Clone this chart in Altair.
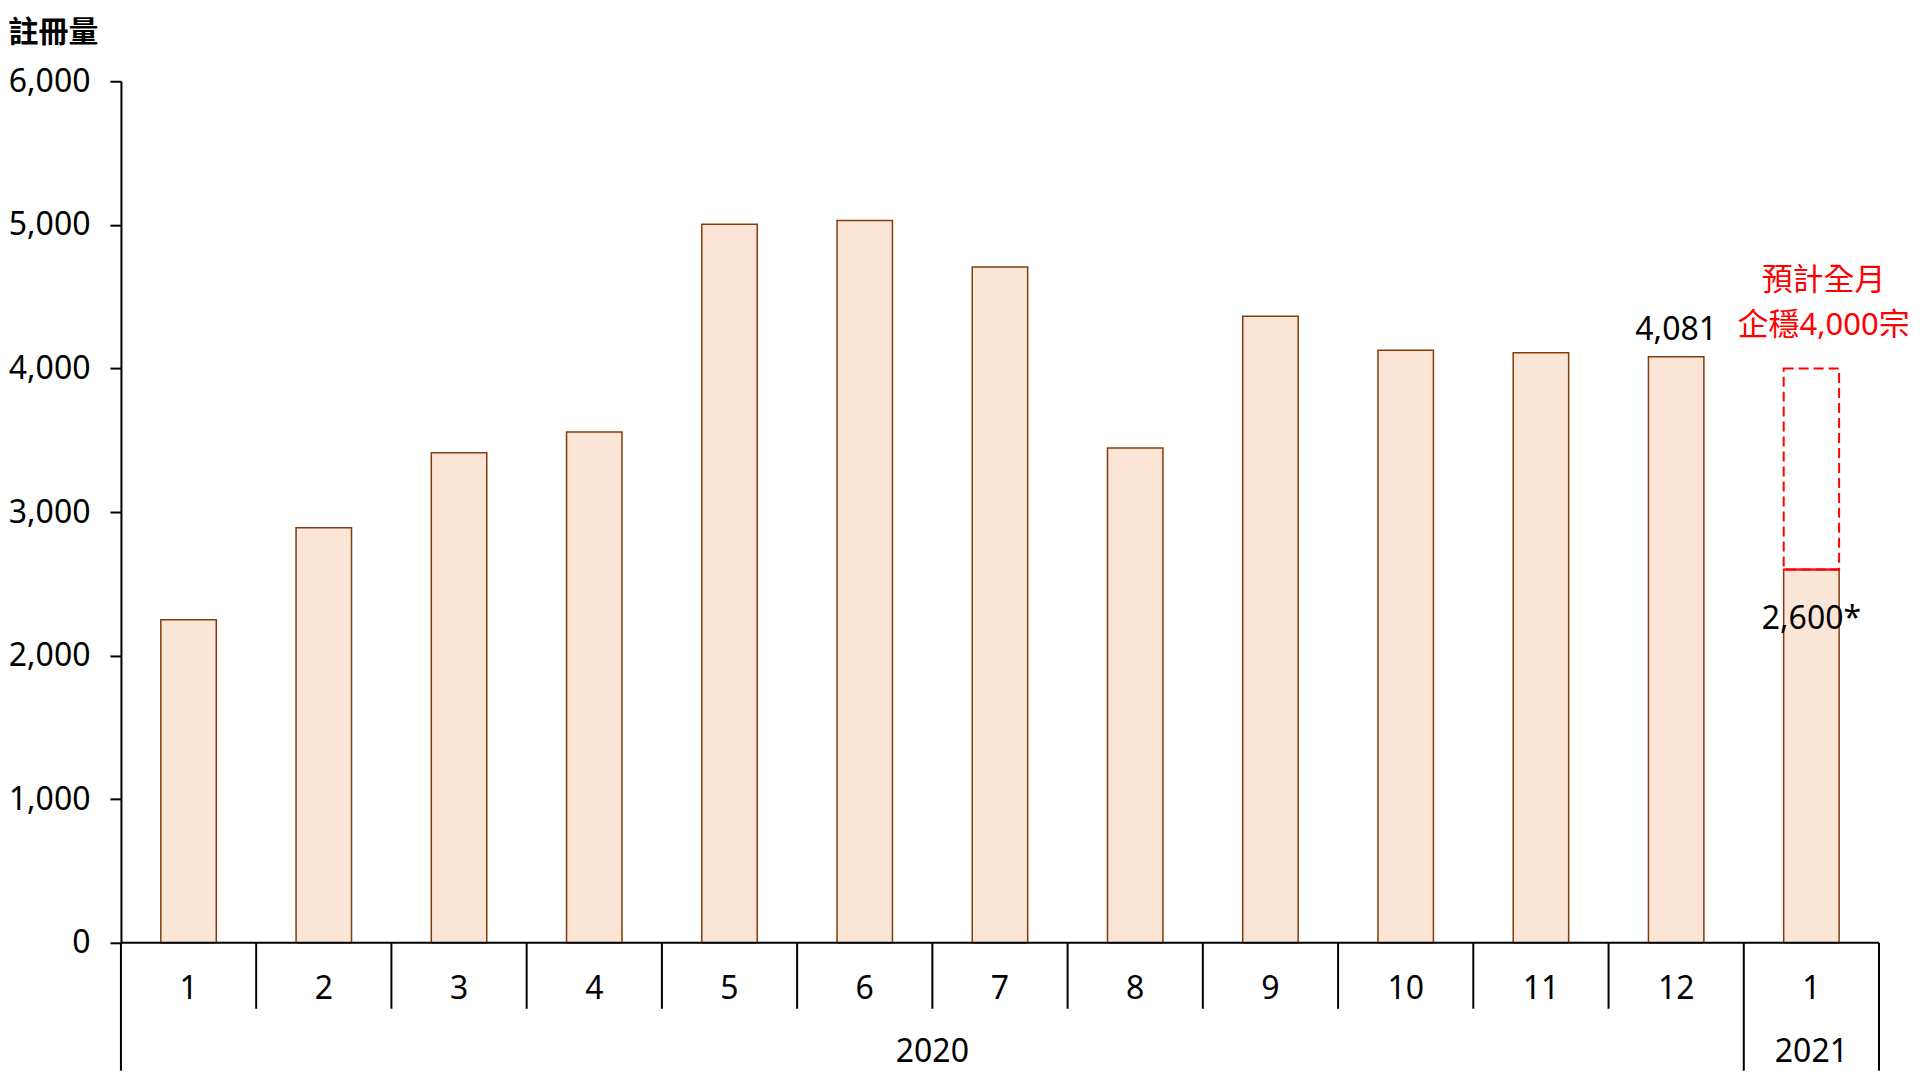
import altair as alt
import pandas as pd

# ---- data ----
months = ["1", "2", "3", "4", "5", "6", "7", "8", "9", "10", "11", "12", "1"]
values = [2250, 2891, 3413, 3557, 5004, 5030, 4706, 3445, 4364, 4127, 4109, 4081, 2600]
years = ["2020", "2021"]
year_month_counts = [12, 1]
y_ticks = [0, 1000, 2000, 3000, 4000, 5000, 6000]
proj_index = 12
proj_value = 2600
proj_target = 4000
proj_text = ["預計全月", "企穩4,000宗"]
proj_label = "2,600*"
labelled_index = 11

# ---- layout / style ----
W, H = 1759, 862
FONT = "Noto Sans, Noto Sans CJK TC"
CJK = "Noto Sans CJK TC"
FS = 32
BAR_FILL = "#FAE5D7"
BAR_STROKE = "#843C0C"
RED = "#FF0000"
HALF = 0.205  # half bar width as fraction of category step

bars_df = pd.DataFrame({"idx": list(range(len(months))), "month": months, "value": values})

xs = alt.Scale(domain=[0, len(months)], nice=False, zero=False)
ys = alt.Scale(domain=[0, 6000], nice=False)

base = alt.Chart(bars_df).transform_calculate(
    x0=f"datum.idx + 0.5 - {HALF}",
    x1=f"datum.idx + 0.5 + {HALF}",
    xc="datum.idx + 0.5",
)

bars = base.mark_bar(fill=BAR_FILL, stroke=BAR_STROKE, strokeWidth=1.5).encode(
    x=alt.X("x0:Q", scale=xs, axis=None),
    x2="x1:Q",
    y=alt.Y(
        "value:Q",
        scale=ys,
        axis=alt.Axis(
            values=y_ticks,
            format=",.0f",
            grid=False,
            domainColor="black",
            domainWidth=2,
            tickColor="black",
            tickWidth=2,
            tickSize=11,
            labelPadding=20,
            labelFont=FONT,
            labelFontSize=FS,
            labelColor="black",
            title="註冊量",
            titleFont=CJK,
            titleFontSize=30,
            titleFontWeight="bold",
            titleColor="black",
            titleAngle=0,
            titleAlign="left",
            titleBaseline="middle",
            titleX=-113,
            titleY=-49,
        ),
    ),
    y2=alt.Y2(datum=0),
)

month_labels = base.mark_text(font=FONT, fontSize=FS, baseline="middle", color="black").encode(
    x=alt.X("xc:Q", scale=xs),
    y=alt.value(908),
    text="month:N",
)

bar_label = base.transform_filter(f"datum.idx == {labelled_index}").mark_text(
    font=FONT, fontSize=FS, baseline="alphabetic", dy=-17, color="black"
).encode(
    x=alt.X("xc:Q", scale=xs),
    y=alt.Y("value:Q", scale=ys),
    text=alt.Text("value:Q", format=",.0f"),
)

# x axis baseline
baseline = alt.Chart(pd.DataFrame({"a": [0]})).mark_rule(color="black", strokeWidth=2).encode(
    x=alt.value(0), x2=alt.value(W), y=alt.value(H)
)

# separators
cum = [0]
for c in year_month_counts:
    cum.append(cum[-1] + c)
sep_df = pd.DataFrame({"b": list(range(len(months) + 1))})
sep_df["long"] = sep_df["b"].isin(cum)
short_sep = alt.Chart(sep_df[~sep_df["long"]]).mark_rule(color="black", strokeWidth=2).encode(
    x=alt.X("b:Q", scale=xs), y=alt.value(H), y2=alt.value(928)
)
long_sep = alt.Chart(sep_df[sep_df["long"]]).mark_rule(color="black", strokeWidth=2).encode(
    x=alt.X("b:Q", scale=xs), y=alt.value(H), y2=alt.value(990)
)

year_df = pd.DataFrame({"year": years, "start": cum[:-1], "end": cum[1:]})
year_labels = alt.Chart(year_df).transform_calculate(
    c="(datum.start + datum.end) / 2"
).mark_text(font=FONT, fontSize=FS, baseline="middle", color="black").encode(
    x=alt.X("c:Q", scale=xs), y=alt.value(971), text="year:N"
)

# projection
proj_df = pd.DataFrame({"idx": [proj_index], "v": [proj_value], "t": [proj_target], "lab": [proj_label]})
proj_base = alt.Chart(proj_df).transform_calculate(
    x0=f"datum.idx + 0.5 - {HALF}",
    x1=f"datum.idx + 0.5 + {HALF}",
    xc="datum.idx + 0.5",
)
dash_rect = proj_base.mark_bar(fillOpacity=0, stroke=RED, strokeWidth=2, strokeDash=[10, 5]).encode(
    x=alt.X("x0:Q", scale=xs), x2="x1:Q", y=alt.Y("v:Q", scale=ys), y2="t:Q"
)
red_line = proj_base.mark_rule(color=RED, strokeWidth=2).encode(
    x=alt.X("x0:Q", scale=xs), x2="x1:Q", y=alt.Y("v:Q", scale=ys)
)
proj_val_label = proj_base.mark_text(font=FONT, fontSize=FS, baseline="middle", dy=50, color="black").encode(
    x=alt.X("xc:Q", scale=xs), y=alt.Y("v:Q", scale=ys), text="lab:N"
)
note_df = pd.DataFrame({"idx": [proj_index], "t": [proj_target], "txt": [proj_text]})
proj_note = alt.Chart(note_df).transform_calculate(xc="datum.idx + 0.59").mark_text(
    font=FONT, fontSize=31, baseline="bottom", dy=-71, lineHeight=45, color=RED
).encode(
    x=alt.X("xc:Q", scale=xs), y=alt.Y("t:Q", scale=ys), text="txt"
)

chart = alt.layer(
    bars, red_line, dash_rect, baseline, short_sep, long_sep,
    month_labels, year_labels, bar_label, proj_val_label, proj_note,
).properties(
    width=W, height=H,
    autosize=alt.AutoSizeParams(type="none"),
    padding={"left": 113, "top": 73, "right": 33, "bottom": 128},
).configure_view(stroke=None)

chart.save("out.html", embed_options={"renderer": "svg", "actions": False})
